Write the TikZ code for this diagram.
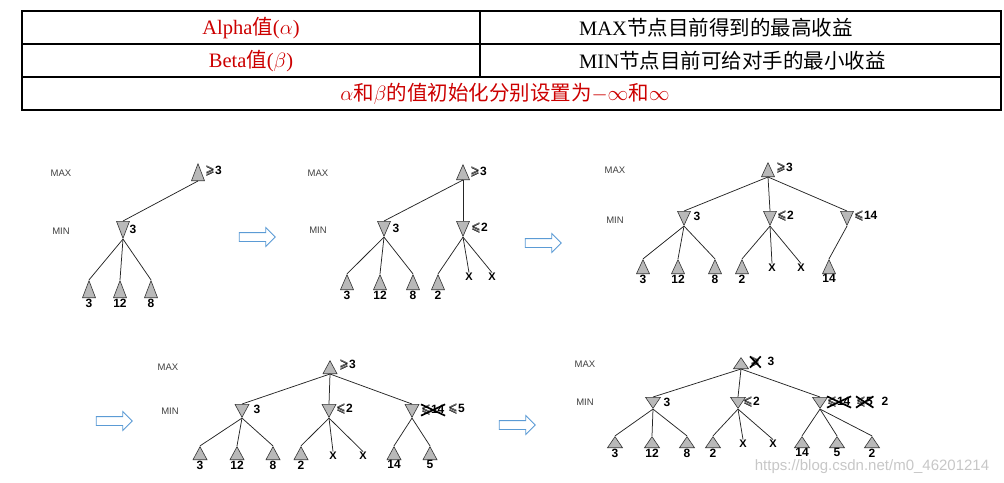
\documentclass[tikz,border=0pt]{standalone}
\usepackage{amsmath,amssymb}
\usepackage{fontspec}
\setmainfont{Liberation Serif}
\newfontfamily\cjk{Noto Sans CJK SC}
\newfontfamily\treefont{Liberation Sans}
\usetikzlibrary{shapes.geometric,shapes.arrows}
\definecolor{tabred}{RGB}{204,0,0}
\definecolor{arrowblue}{RGB}{91,155,213}
\newcommand\zh[1]{{\cjk #1}}
\newcommand\atleast{\pmb{$\geqslant$}}
\newcommand\atmost{\pmb{$\leqslant$}}
\newcommand\triw{13pt}
\newcommand\trih{16pt}
\tikzset{
  tab/.style={draw=black, line width=1.3pt},
  tabtext/.style={font=\fontsize{20.5}{24}\selectfont, inner sep=0pt},
  lvl/.style={font=\treefont\fontsize{9.5}{10}\selectfont, text=black!75, inner sep=0pt},
  tri/.style={isosceles triangle, isosceles triangle stretches, draw=black!80, fill=gray!55, line width=0.6pt, inner sep=0pt, minimum width=\triw, minimum height=\trih, anchor=lower side},
  maxnode/.style={tri, shape border rotate=90},
  minnode/.style={tri, shape border rotate=-90},
  val/.style={font=\treefont\bfseries\fontsize{12}{12}\selectfont, inner sep=0.5pt},
  xmark/.style={font=\treefont\bfseries\fontsize{11}{11}\selectfont, inner sep=0.5pt},
  edge/.style={draw=black!85, line width=0.75pt},
  cross/.style={draw=black, line width=1.7pt},
  bigarrow/.style={single arrow, draw=arrowblue, fill=white, line width=0.8pt, inner xsep=0pt, inner ysep=4pt, single arrow head extend=5pt, minimum height=36pt}
}

\begin{document}
\begin{tikzpicture}[x=1pt, y=-1pt]
  \useasboundingbox (0,0) rectangle (1004,482);

  \draw[tab] (22,11) rectangle (1001,110);
  \draw[tab] (22,44) -- (1001,44) (22,77) -- (1001,77) (480,11) -- (480,77);
  \node[tabtext, text=tabred] (alpha) at (251,28) {Alpha\zh{值}($\alpha$)};
  \node[tabtext, anchor=west] (maxdef) at (579,28) {MAX\zh{节点目前得到的最高收益}};
  \node[tabtext, text=tabred] (beta) at (251,61) {Beta\zh{值}($\beta$)};
  \node[tabtext, anchor=west] (mindef) at (579,61) {MIN\zh{节点目前可给对手的最小收益}};
  \node[tabtext, text=tabred] (init) at (505,94) {$\alpha$\zh{和}$\beta$\zh{的值初始化分别设置为}$-\infty$\zh{和}$\infty$};

  \begin{scope}
    \def\triw{13pt}\def\trih{17pt}
    \node[lvl] (a-maxlbl) at (61,173) {MAX};
    \node[lvl] (a-minlbl) at (61,231) {MIN};
    \node[maxnode] (a-max) at (198,181) {};
    \node[minnode] (a-m1) at (123,221) {};
    \foreach \x [count=\i] in {89,120,151}
      \node[maxnode] (a-l\i) at (\x,298) {};
    \node[val, anchor=west] (a-maxv) at (205,171) {\atleast3};
    \node[val, anchor=west] (a-m1v) at (129,229) {3};
    \foreach \v [count=\i] in {3,12,8}
      \node[val, anchor=north] at (a-l\i.lower side) {\v};
    \draw[edge] (a-max.lower side) -- (a-m1.lower side);
    \foreach \i in {1,2,3}
      \draw[edge] (a-m1.apex) -- (a-l\i.apex);
  \end{scope}

  \node[bigarrow] (arr1) at (255,237) {};

  \begin{scope}
    \def\triw{13pt}\def\trih{15pt}
    \node[lvl] (b-maxlbl) at (318,173) {MAX};
    \node[lvl] (b-minlbl) at (318,230) {MIN};
    \node[maxnode] (b-max) at (463,180) {};
    \node[minnode] (b-m1) at (384,221) {};
    \node[minnode] (b-m2) at (463,221) {};
    \foreach \x [count=\i] in {347,380,413,438}
      \node[maxnode] (b-l\i) at (\x,290) {};
    \node[xmark] (b-x1) at (469,277) {X};
    \node[xmark] (b-x2) at (492,277) {X};
    \node[val, anchor=west] (b-maxv) at (470,172) {\atleast3};
    \node[val, anchor=west] (b-m1v) at (392,228) {3};
    \node[val, anchor=west] (b-m2v) at (471,228) {\atmost2};
    \foreach \v [count=\i] in {3,12,8,2}
      \node[val, anchor=north] at (b-l\i.lower side) {\v};
    \draw[edge] (b-max.lower side) -- (b-m1.lower side);
    \draw[edge] (b-max.lower side) -- (b-m2.lower side);
    \foreach \i in {1,2,3}
      \draw[edge] (b-m1.apex) -- (b-l\i.apex);
    \draw[edge] (b-m2.apex) -- (b-l4.apex);
    \draw[edge] (b-m2.apex) -- (b-x1.north);
    \draw[edge] (b-m2.apex) -- (b-x2.north);
  \end{scope}

  \node[bigarrow] (arr2) at (541,243) {};

  \begin{scope}
    \def\triw{13pt}\def\trih{14pt}
    \node[lvl] (c-maxlbl) at (615,170) {MAX};
    \node[lvl] (c-minlbl) at (615,220) {MIN};
    \node[maxnode] (c-max) at (768,177) {};
    \node[minnode] (c-m1) at (684,211) {};
    \node[minnode] (c-m2) at (770,211) {};
    \node[minnode] (c-m3) at (847,211) {};
    \foreach \x [count=\i] in {643,678,715,742,829}
      \node[maxnode] (c-l\i) at (\x,274) {};
    \node[xmark] (c-x1) at (772,268) {X};
    \node[xmark] (c-x2) at (801,268) {X};
    \node[val, anchor=west] (c-maxv) at (776,168) {\atleast3};
    \node[val, anchor=west] (c-m1v) at (693,216) {3};
    \node[val, anchor=west] (c-m2v) at (777,216) {\atmost2};
    \node[val, anchor=west] (c-m3v) at (854,216) {\atmost14};
    \foreach \v [count=\i] in {3,12,8,2,14}
      \node[val, anchor=north] at (c-l\i.lower side) {\v};
    \foreach \i in {1,2,3}
      \draw[edge] (c-max.lower side) -- (c-m\i.lower side);
    \foreach \i in {1,2,3}
      \draw[edge] (c-m1.apex) -- (c-l\i.apex);
    \draw[edge] (c-m2.apex) -- (c-l4.apex);
    \draw[edge] (c-m2.apex) -- (c-x1.north);
    \draw[edge] (c-m2.apex) -- (c-x2.north);
    \draw[edge] (c-m3.apex) -- (c-l5.apex);
  \end{scope}

  \node[bigarrow] (arr3) at (112,421) {};

  \begin{scope}
    \def\triw{14pt}\def\trih{13pt}
    \node[lvl] (d-maxlbl) at (168,367) {MAX};
    \node[lvl] (d-minlbl) at (170,411) {MIN};
    \node[maxnode] (d-max) at (330,374) {};
    \node[minnode] (d-m1) at (242,404) {};
    \node[minnode] (d-m2) at (329,404) {};
    \node[minnode] (d-m3) at (412,404) {};
    \foreach \x [count=\i] in {200,237,273,301,394,430}
      \node[maxnode] (d-l\i) at (\x,460) {};
    \node[xmark] (d-x1) at (333,456) {X};
    \node[xmark] (d-x2) at (363,456) {X};
    \node[val, anchor=west] (d-maxv) at (339,365) {\atleast3};
    \node[val, anchor=west] (d-m1v) at (253,409) {3};
    \node[val, anchor=west] (d-m2v) at (336,409) {\atmost2};
    \node[val, anchor=west] (d-m3a) at (421,410) {\atmost14};
    \node[val, anchor=west] (d-m3v) at (448,409) {\atmost5};
    \draw[cross] (d-m3a.south west) -- (d-m3a.north east) (d-m3a.north west) -- (d-m3a.south east);
    \foreach \v [count=\i] in {3,12,8,2,14,5}
      \node[val, anchor=north] at (d-l\i.lower side) {\v};
    \foreach \i in {1,2,3}
      \draw[edge] (d-max.lower side) -- (d-m\i.lower side);
    \foreach \i in {1,2,3}
      \draw[edge] (d-m1.apex) -- (d-l\i.apex);
    \draw[edge] (d-m2.apex) -- (d-l4.apex);
    \draw[edge] (d-m2.apex) -- (d-x1.north);
    \draw[edge] (d-m2.apex) -- (d-x2.north);
    \draw[edge] (d-m3.apex) -- (d-l5.apex);
    \draw[edge] (d-m3.apex) -- (d-l6.apex);
  \end{scope}

  \node[bigarrow] (arr4) at (515,425) {};

  \begin{scope}
    \def\triw{15pt}\def\trih{11pt}
    \node[lvl] (e-maxlbl) at (585,364) {MAX};
    \node[lvl] (e-minlbl) at (585,402) {MIN};
    \node[maxnode] (e-max) at (741,369) {};
    \node[minnode] (e-m1) at (653,397) {};
    \node[minnode] (e-m2) at (738,397) {};
    \node[minnode] (e-m3) at (820,397) {};
    \foreach \x [count=\i] in {615,652,687,713,802,837,872}
      \node[maxnode] (e-l\i) at (\x,448) {};
    \node[xmark] (e-x1) at (743,444) {X};
    \node[xmark] (e-x2) at (773,444) {X};
    \node[val, anchor=west] (e-maxa) at (750,362) {\atleast};
    \node[val, anchor=west] (e-maxv) at (767,361) {3};
    \draw[cross] (e-maxa.south west) -- (e-maxa.north east) (e-maxa.north west) -- (e-maxa.south east);
    \node[val, anchor=west] (e-m1v) at (663,402) {3};
    \node[val, anchor=west] (e-m2v) at (743,402) {\atmost2};
    \node[val, anchor=west] (e-m3a) at (827,402) {\atmost14};
    \node[val, anchor=west] (e-m3b) at (856,402) {\atmost5};
    \node[val, anchor=west] (e-m3v) at (881,401) {2};
    \draw[cross] (e-m3a.south west) -- (e-m3a.north east) (e-m3a.north west) -- (e-m3a.south east);
    \draw[cross] (e-m3b.south west) -- (e-m3b.north east) (e-m3b.north west) -- (e-m3b.south east);
    \foreach \v [count=\i] in {3,12,8,2,14,5,2}
      \node[val, anchor=north] at (e-l\i.lower side) {\v};
    \foreach \i in {1,2,3}
      \draw[edge] (e-max.lower side) -- (e-m\i.lower side);
    \foreach \i in {1,2,3}
      \draw[edge] (e-m1.apex) -- (e-l\i.apex);
    \draw[edge] (e-m2.apex) -- (e-l4.apex);
    \draw[edge] (e-m2.apex) -- (e-x1.north);
    \draw[edge] (e-m2.apex) -- (e-x2.north);
    \foreach \i in {5,6,7}
      \draw[edge] (e-m3.apex) -- (e-l\i.apex);
  \end{scope}

  \node[font=\treefont\fontsize{15}{15}\selectfont, text=black!22, inner sep=0pt] (wmark) at (872,467) {https://blog.csdn.net/m0\_46201214};
\end{tikzpicture}
\end{document}
